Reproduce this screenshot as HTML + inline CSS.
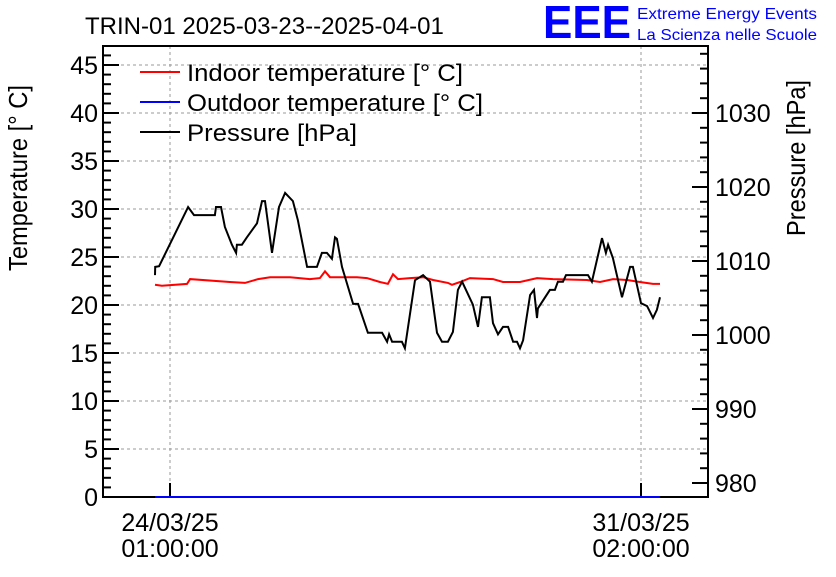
<!DOCTYPE html>
<html><head><meta charset="utf-8"><style>
body{margin:0;background:#fff;}
svg text{font-family:"Liberation Sans",sans-serif;}
</style></head><body>
<svg id="c" width="836" height="572" xmlns="http://www.w3.org/2000/svg">
<rect width="836" height="572" fill="#fff"/>
<text x="85" y="34" font-size="24">TRIN-01 2025-03-23--2025-04-01</text>
<text x="543" y="38" font-size="46" fill="#0000ff" font-weight="bold" textLength="88" lengthAdjust="spacingAndGlyphs">EEE</text>
<text x="637" y="19" font-size="16" fill="#0000ff" textLength="180" lengthAdjust="spacingAndGlyphs">Extreme Energy Events</text>
<text x="637" y="40" font-size="16" fill="#0000ff" textLength="180" lengthAdjust="spacingAndGlyphs">La Scienza nelle Scuole</text>
<g id="grid"></g>
<g id="axes"></g>
<g id="series"></g>
<text transform="translate(27,178) rotate(-90)" text-anchor="middle" font-size="26" textLength="186" lengthAdjust="spacingAndGlyphs">Temperature [° C]</text>
<text transform="translate(805,158) rotate(-90)" text-anchor="middle" font-size="26" textLength="156" lengthAdjust="spacingAndGlyphs">Pressure [hPa]</text>
<g>
<line x1="140" y1="72" x2="180" y2="72" stroke="#ff0000" stroke-width="2"/>
<text x="187" y="81" font-size="24" textLength="276" lengthAdjust="spacingAndGlyphs">Indoor temperature [° C]</text>
<line x1="140" y1="102" x2="180" y2="102" stroke="#0000ff" stroke-width="2"/>
<text x="187" y="111" font-size="24" textLength="296" lengthAdjust="spacingAndGlyphs">Outdoor temperature [° C]</text>
<line x1="140" y1="132" x2="180" y2="132" stroke="#000" stroke-width="2"/>
<text x="187" y="141" font-size="24" textLength="170" lengthAdjust="spacingAndGlyphs">Pressure [hPa]</text>
</g>
</svg>
<script>
// hours since 24/03/25 01:00
const pTime=[-5.4,-5.3,-3.9,6.5,8.6,16.1,16.5,18.3,19.7,22.2,23.7,24.0,25.8,27.6,31.2,33.0,34.1,36.6,39.1,41.3,44.1,45.9,49.2,52.7,54.5,56.3,58.1,59.2,59.9,61.7,65.7,67.5,71.0,76.1,77.9,78.6,79.7,83.2,84.3,87.9,90.8,93.3,95.8,97.6,99.7,101.5,103.3,104.8,108.7,110.5,111.9,114.8,115.9,117.7,119.5,121.3,123.1,124.5,125.6,126.7,129.2,130.6,131.7,132.0,136.3,138.1,139.2,141.0,142.1,150.0,151.4,155.0,156.4,157.2,158.9,162.2,165.1,166.1,169.0,171.2,173.3,174.7,175.8];
const pressure=[1008.1,1009.2,1009.3,1017.3,1016.2,1016.2,1017.3,1017.3,1014.6,1012.2,1011.1,1012.2,1012.2,1013.2,1015.1,1018.1,1018.1,1011.1,1017.3,1019.2,1018.1,1015.5,1009.2,1009.2,1011.1,1011.1,1010.3,1013.2,1013.0,1009.2,1004.2,1004.2,1000.3,1000.3,999.1,1000.1,999.1,999.1,998.2,1007.4,1008.1,1007.2,1000.3,999.1,999.1,1000.4,1006.1,1007.2,1004.1,1001.1,1005.1,1005.1,1001.6,1000.1,1001.1,1001.1,999.1,999.1,998.2,999.3,1005.4,1006.1,1002.3,1003.6,1006.1,1006.1,1007.2,1007.2,1008.1,1008.1,1007.2,1013.1,1011.1,1012.2,1010.4,1005.1,1009.2,1009.2,1004.3,1003.9,1002.3,1003.4,1005.1];
const tTime=[-5.4,-2.9,6.1,7.2,21.5,26.9,31.6,35.9,43.1,50.2,53.8,55.6,57.4,67.1,70.7,75.3,78.2,80.0,81.8,86.1,90.8,94.4,99.7,101.2,104.1,107.6,115.9,119.5,125.6,131.7,137.4,149.6,154.3,159.0,164.0,168.6,173.3,175.8];
const indoor=[22.1,22.0,22.2,22.7,22.4,22.3,22.7,22.9,22.9,22.7,22.8,23.5,22.9,22.9,22.8,22.4,22.2,23.2,22.7,22.8,22.9,22.6,22.3,22.1,22.4,22.8,22.7,22.4,22.4,22.8,22.7,22.6,22.4,22.7,22.6,22.4,22.2,22.2];
const oTime=[-5.4,175.8];
const outdoor=[0,0];
const tempTicks=[0,5,10,15,20,25,30,35,40,45];
const presTicks=[980,990,1000,1010,1020,1030];
const xTicks=[0,169];
const xLabels=[["24/03/25","01:00:00"],["31/03/25","02:00:00"]];

const L=103,R=708,T=46,B=497;
const X=h=>170+h*(641-170)/169;
const Y=t=>B-t*9.6;
const Y2=p=>483-(p-980)*7.4;
const NS="http://www.w3.org/2000/svg";
function mk(parent,tag,attrs){const e=document.createElementNS(NS,tag);for(const k in attrs)e.setAttribute(k,attrs[k]);document.getElementById(parent).appendChild(e);return e;}
tempTicks.forEach(t=>{if(t===0)return;const g=mk('grid','line',{x1:L,x2:R,y1:Y(t),y2:Y(t),stroke:'#999','stroke-dasharray':'3,3'});

});
xTicks.forEach(h=>{const g=mk('grid','line',{x1:X(h),x2:X(h),y1:T,y2:B,stroke:'#999','stroke-dasharray':'3,3'});

});
function line(ts,vs,fy,col,name){const d=ts.map((t,i)=>(i?'L':'M')+X(t).toFixed(1)+','+fy(vs[i]).toFixed(1)).join('');
const p=mk('series','path',{d:d,fill:'none',stroke:col,'stroke-width':2});

}
const f=mk('axes','rect',{x:L,y:T,width:R-L,height:B-T,fill:'none',stroke:'#000','stroke-width':2});


for(let t=0;t<=46;t++){const big=t%5===0;mk('axes','line',{x1:L,x2:L+(big?16:8),y1:Y(t),y2:Y(t),stroke:'#000','stroke-width':2});}
tempTicks.forEach(t=>{const e=mk('axes','text',{x:L-5,y:Y(t)+9,'text-anchor':'end','font-size':25});e.textContent=t;

});
for(let p=980;p<=1038;p+=2){const big=p%10===0;mk('axes','line',{x1:R,x2:R-(big?16:8),y1:Y2(p),y2:Y2(p),stroke:'#000','stroke-width':2});}
presTicks.forEach(p=>{const e=mk('axes','text',{x:R+7,y:Y2(p)+9,'font-size':25});e.textContent=p;

});
xTicks.forEach((h,i)=>{mk('axes','line',{x1:X(h),x2:X(h),y1:B,y2:B-14,stroke:'#000','stroke-width':2});
xLabels[i].forEach((s,j)=>{const e=mk('axes','text',{x:X(h),y:531+j*26,'text-anchor':'middle','font-size':25});e.textContent=s;

});});
line(oTime,outdoor,Y,'#0000ff','outdoor-line');
line(tTime,indoor,Y,'#ff0000','indoor-line');
line(pTime,pressure,Y2,'#000','pressure-line');
</script>
</body></html>
